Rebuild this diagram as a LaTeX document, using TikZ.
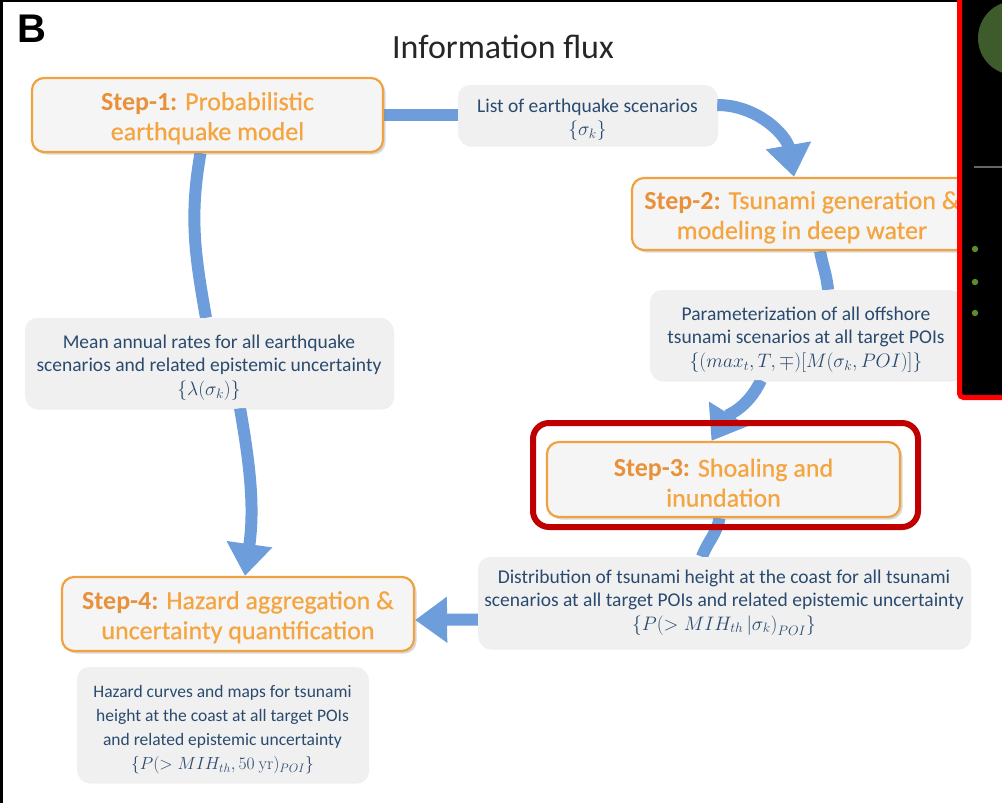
\documentclass[tikz,border=0pt]{standalone}
\usepackage{fix-cm}
\usepackage[no-math]{fontspec}
\setmainfont{Carlito}
\newfontfamily\panelfont{Liberation Sans}
\newfontfamily\stepfont[FakeBold=0.6]{Carlito}
\usetikzlibrary{arrows.meta,shadows}

\definecolor{flow}{HTML}{6D9EDB}
\definecolor{stepedge}{HTML}{F0A23E}
\definecolor{stepfill}{HTML}{F5F5F5}
\definecolor{steptext}{HTML}{F4A540}
\definecolor{steplabel}{HTML}{E8913A}
\definecolor{infofill}{HTML}{F0F0F0}
\definecolor{infotext}{HTML}{2A4A6E}
\definecolor{hlred}{HTML}{C00000}
\definecolor{leafgreen}{HTML}{3E5B2B}
\definecolor{dotgreen}{HTML}{5B8C32}

\newcommand\steplbl[1]{{\rmfamily\bfseries\color{steplabel}#1}}
% struts that push the first line a little lower inside a box
\newcommand\infostrut{\rule{0pt}{22.5pt}}
\newcommand\stepstrut{\rule{0pt}{24.5pt}}

\pgfdeclarelayer{paper}
\pgfdeclarelayer{links}
\pgfsetlayers{paper,links,main}

\begin{document}
\begin{tikzpicture}[x=1pt,y=1pt,
  stepbox/.style={draw=stepedge, line width=2.2pt, fill=stepfill,
    rounded corners=12pt, align=center, text=steptext, inner sep=0pt,
    font=\stepfont\fontsize{26}{30}\selectfont,
    drop shadow={shadow xshift=2.5pt, shadow yshift=-2.5pt, opacity=0.3}},
  infobox/.style={fill=infofill, rounded corners=12pt, align=center,
    text=infotext, inner sep=0pt, font=\fontsize{19.5}{23.5}\selectfont,
    drop shadow={shadow xshift=1pt, shadow yshift=-1.5pt, opacity=0.12}},
  link/.style={draw=flow, line width=12pt},
  arrowlink/.style={link, -{Triangle[width=44pt,length=32pt]}},
]
\useasboundingbox (0,0) rectangle (1002,-803);
\begin{pgfonlayer}{paper}
  \fill[white] (0,0) rectangle (1002,-803);
\end{pgfonlayer}

% panel letter and title
\node[anchor=base west, inner sep=0pt, font=\panelfont\bfseries\fontsize{40}{40}\selectfont] (letter) at (17,-42) {B};
\node[font=\fontsize{34}{38}\selectfont, text=black!85] (title) at (503,-47) {Information flux};

% step boxes
\node[stepbox, minimum width=351pt, minimum height=74pt] (s1) at (207.5,-115)
  {\stepstrut\steplbl{Step-1:} Probabilistic\\earthquake model};
\node[stepbox, minimum width=340pt, minimum height=72pt] (s2) at (802,-214)
  {\stepstrut\steplbl{Step-2:} Tsunami generation \&\\modeling in deep water};
\node[stepbox, minimum width=353pt, minimum height=75pt] (s3) at (723.5,-479.5)
  {\stepstrut\steplbl{Step-3:} Shoaling and\\inundation};
\node[stepbox, minimum width=352pt, minimum height=74pt] (s4) at (238,-614)
  {\stepstrut\steplbl{Step-4:} Hazard aggregation \&\\uncertainty quantification};

% information boxes
\node[infobox, minimum width=259pt, minimum height=60pt] (list) at (587.5,-115)
  {\infostrut List of earthquake scenarios\\$\{\sigma_k\}$};
\node[infobox, minimum width=312pt, minimum height=90pt] (param) at (806,-335)
  {\infostrut Parameterization of all offshore\\tsunami scenarios at all target POIs\\$\{(max_t, T, \mp)[M(\sigma_k, POI)]\}$};
\node[infobox, minimum width=368pt, minimum height=90pt] (mean) at (209,-363)
  {\infostrut Mean annual rates for all earthquake\\scenarios and related epistemic uncertainty\\$\{\lambda(\sigma_k)\}$};
\node[infobox, minimum width=492pt, minimum height=91pt] (dist) at (724,-602.5)
  {Distribution of tsunami height at the coast for all tsunami\\scenarios at all target POIs and related epistemic uncertainty\\$\{P\bigl(> MIH_{th}\,|\sigma_k\bigr)_{POI}\}$};
\node[infobox, minimum width=291pt, minimum height=115pt, font=\fontsize{17.5}{24}\selectfont] (haz) at (222.5,-724.5)
  {\rule{0pt}{22.5pt}Hazard curves and maps for tsunami\\height at the coast at all target POIs\\and related epistemic uncertainty\\$\{P(> MIH_{th}, 50\ \mathrm{yr})_{POI}\}$};

% highlight frame round step 3
\node[draw=hlred, line width=6pt, rounded corners=16pt, inner sep=0pt,
  minimum width=385pt, minimum height=104pt] (hl) at (725.5,-475) {};

% information flux connectors
\begin{pgfonlayer}{links}
  \draw[link] (s1.east) -- (list.west);
  \draw[arrowlink] ([yshift=10pt]list.east) to[out=0,in=100] ([xshift=-8pt]s2.north);
  \draw[link] ([xshift=18pt]s2.south) to[out=-80,in=95] ([xshift=22pt]param.north);
  \draw[arrowlink] ([xshift=-45pt]param.south) to[out=-115,in=58] ([xshift=-12pt]s3.north);
  \draw[link] ([xshift=-4pt]s3.south) to[out=-100,in=70] ([xshift=-22pt]dist.north);
  \draw[arrowlink] ([yshift=-17pt]dist.west) -- ([yshift=-6pt]s4.east);
  \draw[link] ([xshift=-7pt]s1.south) to[out=-100,in=100] ([xshift=-3pt]mean.north);
  \draw[arrowlink] ([xshift=31pt]mean.south) to[out=-80,in=82] ([xshift=7pt]s4.north);
\end{pgfonlayer}

% frame edges
\fill[black] (0,0) rectangle (3,-803);
\fill[black] (0,0) rectangle (958,-1.5);

% adjoining dark panel
\filldraw[fill=black, draw=red, line width=5pt, rounded corners=4pt]
  (959.5,10) rectangle (1015,-397.5);
\fill[leafgreen] (1015,-38) circle[radius=37pt];
\draw[black!60, line width=1.5pt] (974,-167) -- (1002,-167);
\foreach \yy in {249,282,313} \fill[dotgreen] (975,-\yy) circle[radius=3.2pt];
\end{tikzpicture}
\end{document}
